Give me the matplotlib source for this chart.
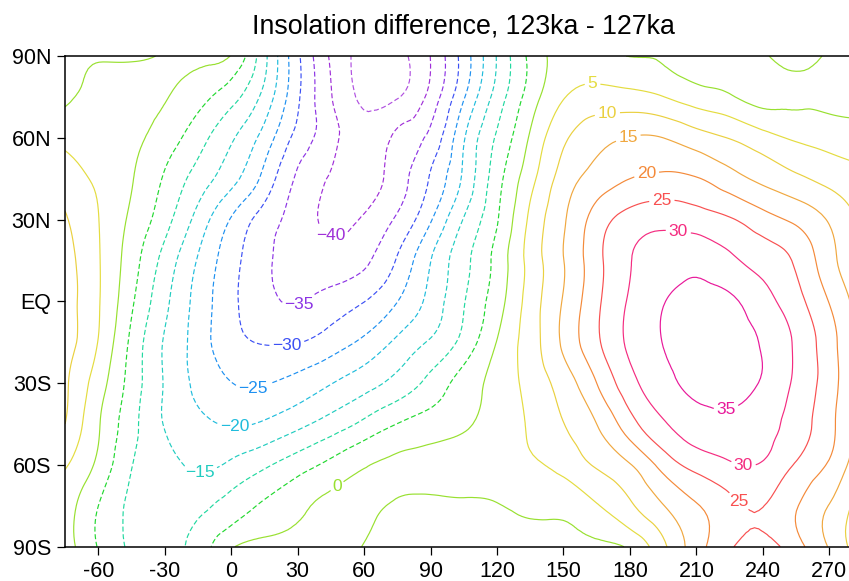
import numpy as np
import matplotlib
matplotlib.use("Agg")
import matplotlib.pyplot as plt
import matplotlib.tri as mtri

plt.rcParams['font.family'] = ['Liberation Sans', 'DejaVu Sans']
plt.rcParams['lines.scale_dashes'] = False

# x axis (days / orbital position) and latitude of the read-off grid
days = [-75, -60, -45, -30, -15, 0, 15, 30, 45, 60, 75, 90, 105, 120,
        135, 150, 165, 180, 195, 210, 225, 240, 255, 270, 285]
lats = [90, 75, 60, 45, 30, 15, 0, -15, -30, -45, -60, -75, -90]

# insolation difference (W/m2), one row per latitude
r90 = [-1.0, -0.3, -0.3, 0.2, 1.0, -0.2, -13.7, -29.0, -40.7, -46.5, -46.3, -39.9, -27.8,
       -14.7, -3.8, 2.0, 1.5, -0.1, -0.6, -4.5, -3.9, -1.0, 3.0, -1.0, -1.0]
r75 = [-1.0, 1.5, 1.5, 0.3, -3.1, -8.1, -16.7, -29.2, -39.7, -46.0, -45.3, -38.3, -25.5,
       -12.9, -2.7, 4.7, 7.0, 6.6, 5.1, 2.5, 0.6, -2.0, -1.0, -1.5, -1.5]
r60 = [3.8, 2.3, 1.0, -2.4, -7.9, -14.3, -22.0, -31.7, -38.4, -43.0, -38.8, -33.6, -20.5,
       -9.3, 0.6, 9.1, 13.3, 15.2, 15.0, 12.2, 9.8, 6.8, 4.3, 3.0, 2.0]
r45 = [7.3, 4.1, 0.3, -5.6, -12.1, -18.3, -26.6, -35.9, -40.5, -42.5, -37.4, -29.5, -19.0,
       -7.0, 3.3, 12.2, 17.0, 20.0, 21.0, 20.3, 17.0, 13.8, 11.0, 8.5, 6.0]
r30 = [10.5, 5.1, -1.0, -8.1, -16.8, -25.4, -32.3, -37.3, -41.0, -39.4, -34.2, -25.5, -14.7,
       -5.4, 6.0, 14.4, 22.2, 27.0, 28.5, 27.5, 25.5, 22.0, 19.0, 14.5, 9.0]
r15 = [12.0, 5.4, -2.7, -11.8, -20.4, -28.1, -33.9, -37.5, -38.2, -36.0, -29.5, -20.1, -11.5,
       -3.3, 6.8, 14.9, 23.4, 29.8, 32.5, 33.5, 31.0, 28.1, 24.2, 16.8, 10.0]
r0 = [12.4, 5.4, -4.2, -13.8, -21.8, -28.8, -33.4, -35.3, -32.9, -30.1, -25.1, -18.3, -10.3,
      -2.2, 7.2, 15.4, 23.9, 30.6, 34.8, 36.5, 35.8, 32.0, 26.8, 19.8, 12.0]
rs15 = [12.0, 4.8, -6.2, -15.5, -22.2, -28.3, -30.3, -30.2, -27.5, -23.9, -19.0, -14.4, -8.3,
        0.2, 7.6, 15.9, 24.1, 31.0, 35.1, 36.8, 36.5, 34.6, 29.2, 22.0, 13.0]
rs30 = [10.8, 2.4, -7.1, -15.4, -21.2, -24.9, -25.3, -23.3, -20.2, -17.0, -13.3, -8.4, -2.8,
        1.7, 6.7, 12.3, 20.0, 28.3, 33.4, 36.3, 36.5, 34.5, 29.0, 22.3, 13.0]
rs45 = [10.0, 0.5, -8.3, -15.3, -18.7, -20.4, -19.3, -16.3, -12.8, -8.8, -4.9, -2.8, -0.7,
        2.2, 5.6, 9.9, 15.0, 23.0, 29.4, 33.0, 34.0, 32.0, 27.8, 21.4, 13.0]
rs60 = [5.5, -1.2, -9.8, -13.5, -15.8, -14.1, -10.8, -7.2, -3.7, -0.4, 1.0, 1.8, 2.5,
        3.2, 4.2, 6.6, 10.6, 14.7, 21.8, 26.7, 29.3, 29.5, 24.5, 19.4, 10.0]
rs75 = [2.5, -5.0, -10.8, -12.0, -11.2, -7.9, -4.2, -1.2, 1.2, 1.0, -0.5, -1.0, -0.8,
        -0.3, 1.0, 1.5, 4.6, 9.2, 14.8, 19.6, 23.6, 25.1, 20.4, 14.8, 7.0]
rs90 = [2.5, -5.3, -10.7, -11.3, -8.1, -0.5, 1.0, 1.2, 1.0, -0.1, -1.0, -1.0, -1.0,
        -1.0, -1.0, -1.0, -0.6, 0.7, 8.9, 17.8, 24.3, 27.0, 21.9, 14.6, 6.0]

levels = [-45, -40, -35, -30, -25, -20, -15, -10, -5, 0, 5, 10, 15, 20, 25, 30, 35]
colors = ['#b050e0', '#a030d8', '#8c34e4', '#3c50f4', '#1e90f0', '#20bcdc', '#22ccc0',
          '#22d8a0', '#22d830', '#98e030', '#e4dc40', '#ead040', '#f0a840', '#f48a3a',
          '#f85050', '#f42c80', '#e8189a']
label_pos = [(45.1, 25.0), (30.2, -0.6), (25.3, -16.8), (9.9, -32.2), (1.4, -46.5),
             (-14.0, -61.9), (51.4, -71.8), (163.3, 82.5), (169.6, 70.9), (179.0, 60.7),
             (186.7, 50.0), (194.4, 37.2), (230.5, -72.1), (201.6, 24.3), (231.4, -58.9),
             (223.7, -40.6)]

xticks = [-60, -30, 0, 30, 60, 90, 120, 150, 180, 210, 240, 270]
yticks = [-90, -60, -30, 0, 30, 60, 90]
ylabels = ['90S', '60S', '30S', 'EQ', '30N', '60N', '90N']

Z = np.array([r90, r75, r60, r45, r30, r15, r0, rs15, rs30, rs45, rs60, rs75, rs90])
X, Y = np.meshgrid(days, lats)

fig = plt.figure(figsize=(8.49, 5.81), dpi=100)
ax = fig.add_axes([0.0767, 0.0590, 0.9392, 0.8446])

tri = mtri.Triangulation(X.ravel(), Y.ravel())
tri_f, z_f = mtri.UniformTriRefiner(tri).refine_field(Z.ravel(), subdiv=3)

styles = [(0, (3.6, 1.9)) if lv < 0 else 'solid' for lv in levels]
cs = ax.tricontour(tri_f, z_f, levels=levels, colors=colors, linewidths=0.85,
                   linestyles=styles)

def fmt(v):
    return ('%d' % round(v)).replace('-', '\u2212')

ax.set_xlim(-75, 285)
ax.set_ylim(-90, 90)

txts = ax.clabel(cs, manual=label_pos, inline=True, fmt=fmt, fontsize=12.5,
                 inline_spacing=3)
for t in txts:
    t.set_rotation(0)

ax.set_xticks(xticks)
ax.set_xticklabels([str(v) for v in xticks])
ax.set_yticks(yticks)
ax.set_yticklabels(ylabels)
ax.tick_params(direction='out', length=6, width=0.9, labelsize=15.5, pad=4)
for s in ax.spines.values():
    s.set_linewidth(1.1)

ax.set_title('Insolation difference, 123ka - 127ka', fontsize=19.3, pad=16)

fig.savefig('out.png', dpi=100)
